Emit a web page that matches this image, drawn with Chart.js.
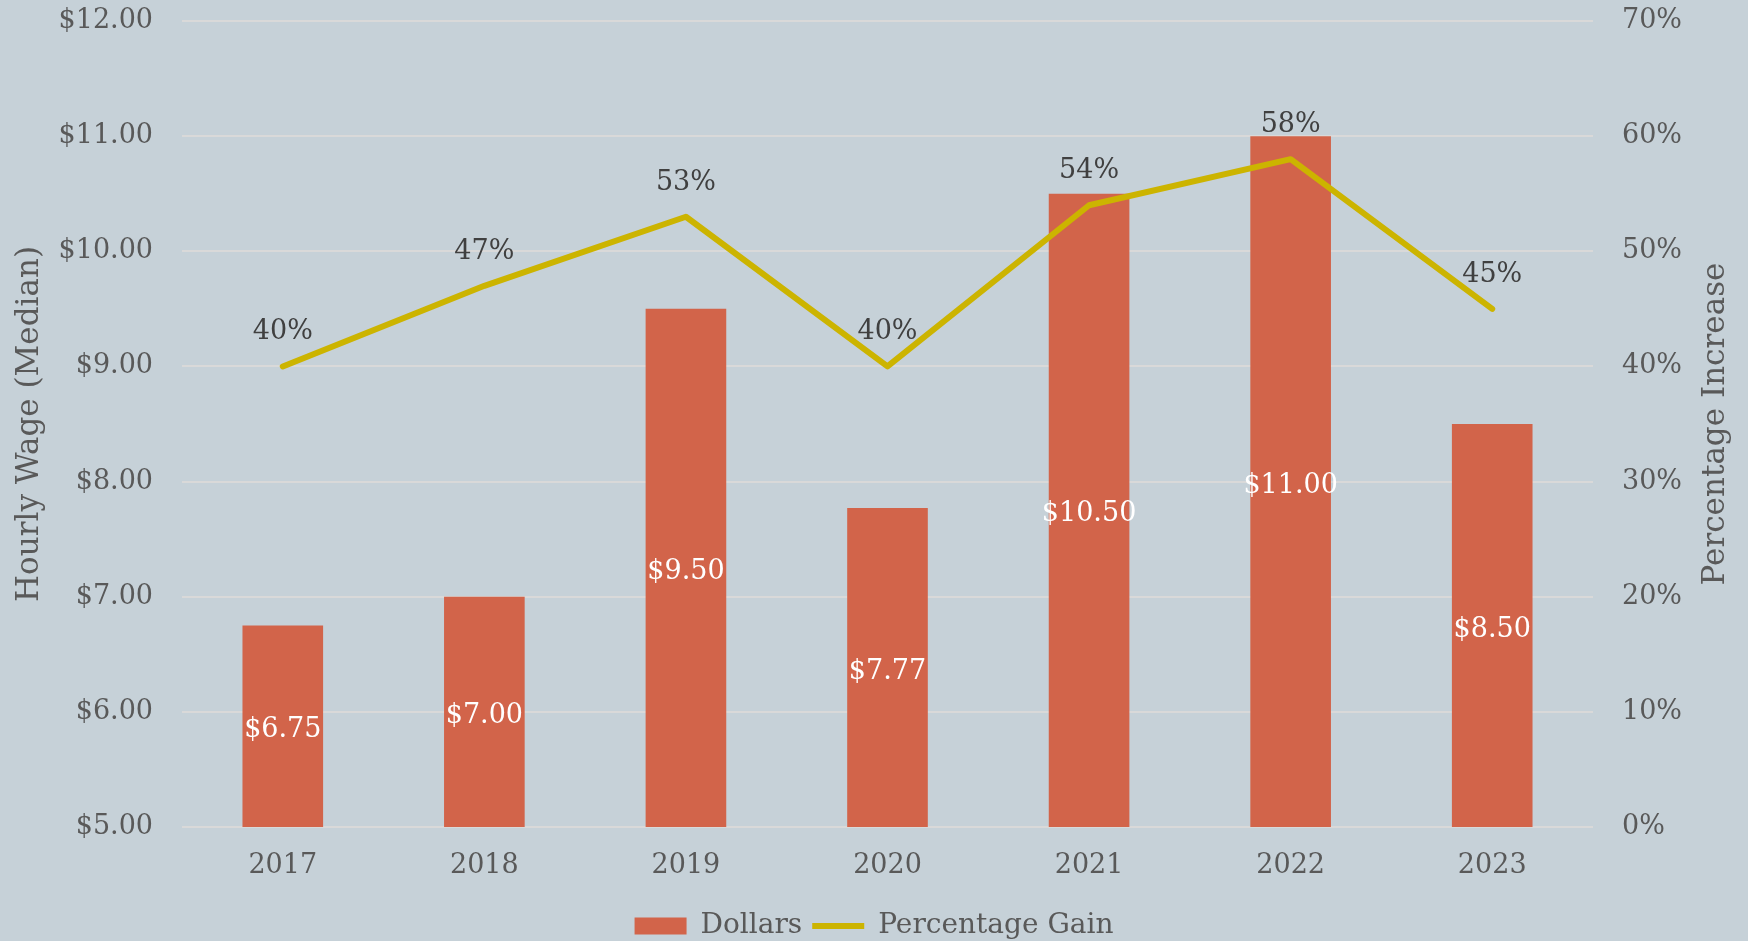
<!DOCTYPE html>
<html>
<head>
<meta charset="utf-8">
<script src="https://cdn.jsdelivr.net/npm/chart.js@4"></script>
<style>
  html, body { margin: 0; padding: 0; background: #C6D1D8; }
  #wrap { width: 1748px; height: 941px; position: relative; }
</style>
</head>
<body>
<div id="wrap"><canvas id="c"></canvas></div>
<script>
const years = ['2017', '2018', '2019', '2020', '2021', '2022', '2023'];
const dollars = [6.75, 7.00, 9.50, 7.77, 10.50, 11.00, 8.50];
const pctGain = [40, 47, 53, 40, 54, 58, 45];
const seriesNames = ['Dollars', 'Percentage Gain'];
const leftTitle = 'Hourly Wage (Median)';
const rightTitle = 'Percentage Increase';

const FONT = "'DejaVu Serif', 'Liberation Serif', serif";
const BG = '#C6D1D8';
const BAR = '#D2644A';
const LINE = '#CCB400';
const TICK = '#595959';
const GRID = '#D9D9D9';

const bgPlugin = {
  id: 'bg',
  beforeDraw(chart) {
    const ctx = chart.ctx;
    ctx.save();
    ctx.fillStyle = BG;
    ctx.fillRect(0, 0, chart.width, chart.height);
    ctx.restore();
  }
};

const labelPlugin = {
  id: 'valueLabels',
  afterDatasetsDraw(chart) {
    const ctx = chart.ctx;
    const bottom = chart.chartArea.bottom;
    ctx.save();
    ctx.font = '27px ' + FONT;
    ctx.textAlign = 'center';
    ctx.textBaseline = 'middle';
    chart.data.datasets.forEach((ds, i) => {
      const meta = chart.getDatasetMeta(i);
      meta.data.forEach((el, j) => {
        const v = ds.data[j];
        if (meta.type === 'bar') {
          ctx.fillStyle = '#FFFFFF';
          const base = Math.min(el.base, bottom);
          ctx.fillText('$' + v.toFixed(2), el.x, (el.y + base) / 2 + 4);
        } else {
          ctx.fillStyle = '#404040';
          ctx.fillText(v + '%', el.x, el.y - 34);
        }
      });
    });
    ctx.restore();
  }
};

const rightTitlePlugin = {
  id: 'rightTitle',
  afterDraw(chart) {
    const ctx = chart.ctx;
    const s = chart.scales.y1;
    ctx.save();
    ctx.font = '31px ' + FONT;
    ctx.fillStyle = TICK;
    ctx.textAlign = 'center';
    ctx.textBaseline = 'middle';
    ctx.translate(1716, (s.top + s.bottom) / 2);
    ctx.rotate(-Math.PI / 2);
    ctx.fillText(rightTitle, 0, 0);
    ctx.restore();
  }
};

new Chart(document.getElementById('c'), {
  data: {
    labels: years,
    datasets: [
      {
        type: 'bar',
        label: seriesNames[0],
        data: dollars,
        backgroundColor: BAR,
        borderWidth: 0,
        yAxisID: 'y',
        order: 1,
        categoryPercentage: 1.0,
        barPercentage: 0.4,
        pointStyle: 'rect'
      },
      {
        type: 'line',
        label: seriesNames[1],
        data: pctGain,
        borderColor: LINE,
        backgroundColor: LINE,
        borderWidth: 6,
        borderCapStyle: 'round',
        borderJoinStyle: 'round',
        pointRadius: 0,
        pointHoverRadius: 0,
        tension: 0,
        yAxisID: 'y1',
        order: 0,
        pointStyle: 'line'
      }
    ]
  },
  options: {
    responsive: true,
    maintainAspectRatio: false,
    animation: false,
    layout: { padding: { top: 21, left: 0, right: 0, bottom: -9 } },
    plugins: {
      tooltip: { enabled: false },
      legend: {
        position: 'bottom',
        labels: {
          usePointStyle: true,
          pointStyleWidth: 52,
          boxHeight: 17,
          padding: 10,
          color: TICK,
          font: { family: FONT, size: 28 },
          sort: (a, b) => a.datasetIndex - b.datasetIndex
        }
      }
    },
    scales: {
      x: {
        grid: { display: false, drawTicks: false },
        border: { display: false },
        ticks: { color: TICK, font: { family: FONT, size: 27 }, padding: 23 },
        afterFit(scale) { scale.height = 75; }
      },
      y: {
        position: 'left',
        min: 5, max: 12,
        ticks: {
          stepSize: 1,
          color: TICK,
          font: { family: FONT, size: 27 },
          padding: 29,
          callback: v => '$' + Number(v).toFixed(2)
        },
        grid: { color: GRID, lineWidth: 2, drawTicks: false },
        border: { display: false },
        title: {
          display: true,
          text: leftTitle,
          color: TICK,
          font: { family: FONT, size: 31 },
          padding: { top: 11, bottom: 0 }
        },
        afterFit(scale) { scale.width = 182; scale.paddingTop = 0; scale.paddingBottom = 0; }
      },
      y1: {
        position: 'right',
        min: 0, max: 70,
        ticks: {
          stepSize: 10,
          color: TICK,
          font: { family: FONT, size: 27 },
          padding: 29,
          callback: v => v + '%'
        },
        grid: { display: false, drawTicks: false },
        border: { display: false },
        afterFit(scale) { scale.width = 1748 - 1593; scale.paddingTop = 0; scale.paddingBottom = 0; }
      }
    }
  },
  plugins: [bgPlugin, labelPlugin, rightTitlePlugin]
});
</script>
</body>
</html>
